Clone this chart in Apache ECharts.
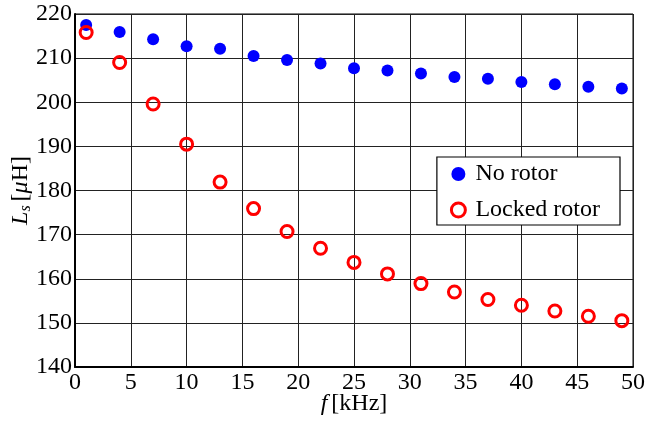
<!DOCTYPE html>
<html>
<head>
<meta charset="utf-8">
<script src="https://cdn.jsdelivr.net/npm/echarts@6/dist/echarts.min.js"></script>
<style>html,body{margin:0;padding:0;background:#fff;}#c{width:645px;height:426px;}</style>
</head>
<body>
<div id="c"></div>
<script>
const freq = [1, 4, 7, 10, 13, 16, 19, 22, 25, 28, 31, 34, 37, 40, 43, 46, 49];
const noRotor = [217.5, 215.9, 214.3, 212.7, 212.1, 210.5, 209.6, 208.8, 207.7, 207.2, 206.5, 205.7, 205.3, 204.6, 204.1, 203.5, 203.1];
const lockedRotor = [215.8, 209.0, 199.6, 190.5, 181.9, 175.9, 170.7, 166.9, 163.7, 161.1, 158.9, 157.0, 155.3, 154.0, 152.7, 151.5, 150.5];
const xTicks = [0, 5, 10, 15, 20, 25, 30, 35, 40, 45, 50];
const yTicks = [140, 150, 160, 170, 180, 190, 200, 210, 220];
const seriesNames = ['No rotor', 'Locked rotor'];

const FONT = 'Liberation Serif';
const FS = 24;
const chart = echarts.init(document.getElementById('c'), null, {renderer: 'canvas'});
const pairs = (xs, ys) => xs.map((x, i) => [x, ys[i]]);

chart.setOption({
  animation: false,
  backgroundColor: '#fff',
  textStyle: {fontFamily: FONT, color: '#000'},
  grid: {left: 75, right: 12, top: 14, bottom: 59, show: true, borderColor: '#000', borderWidth: 1, outerBoundsMode: 'none', containLabel: false},
  legend: {
    right: 25, top: 157,
    orient: 'vertical',
    backgroundColor: '#fff',
    borderColor: '#000', borderWidth: 1.2,
    padding: [5, 20, 3, 13],
    itemGap: 12,
    itemWidth: 14, itemHeight: 14,
    textStyle: {fontFamily: FONT, fontSize: FS, color: '#000', padding: [0, 0, 0, 5]},
    data: [
      {name: seriesNames[0], icon: 'circle', itemStyle: {color: '#0000ff'}},
      {name: seriesNames[1], icon: 'circle', itemStyle: {color: '#fff', borderColor: '#ff0000', borderWidth: 3}}
    ]
  },
  xAxis: {
    type: 'value', min: xTicks[0], max: xTicks[xTicks.length - 1], interval: 5,
    name: '{i|f}{n|[kHz]}', nameLocation: 'middle', nameGap: 25, nameMoveOverlap: false,
    nameTextStyle: {rich: {i: {fontFamily: FONT, fontStyle: 'italic', fontSize: FS, color: '#000', padding: [0, 4, 0, 0]}, n: {fontFamily: FONT, fontSize: FS, color: '#000'}}},
    axisLine: {show: true, lineStyle: {color: '#000', width: 2}},
    axisTick: {show: false},
    axisLabel: {fontFamily: FONT, fontSize: FS, color: '#000', margin: 4},
    splitLine: {show: true, lineStyle: {color: '#222', width: 1}}
  },
  yAxis: {
    type: 'value', min: yTicks[0], max: yTicks[yTicks.length - 1], interval: 10,
    name: '{i|L}{s|s}{n|[}{i|μ}{n|H]}', nameLocation: 'middle', nameGap: 41, nameMoveOverlap: false,
    nameTextStyle: {rich: {
      i: {fontFamily: FONT, fontStyle: 'italic', fontSize: FS, color: '#000'},
      s: {fontFamily: FONT, fontStyle: 'italic', fontSize: 16, color: '#000', padding: [10, 4, 0, 0]},
      n: {fontFamily: FONT, fontSize: FS, color: '#000'}
    }},
    axisLine: {show: true, lineStyle: {color: '#000', width: 2}},
    axisTick: {show: false},
    axisLabel: {fontFamily: FONT, fontSize: FS, color: '#000', margin: 3},
    splitLine: {show: true, lineStyle: {color: '#222', width: 1}}
  },
  series: [
    {
      name: seriesNames[0], type: 'scatter', symbol: 'circle', symbolSize: 12,
      itemStyle: {color: '#0000ff', opacity: 1},
      data: pairs(freq, noRotor), z: 2
    },
    {
      name: seriesNames[1], type: 'scatter', symbol: 'circle', symbolSize: 12,
      itemStyle: {color: 'rgba(255,255,255,0)', borderColor: '#ff0000', borderWidth: 3, opacity: 1},
      data: pairs(freq, lockedRotor), z: 3
    }
  ]
});
</script>
</body>
</html>
